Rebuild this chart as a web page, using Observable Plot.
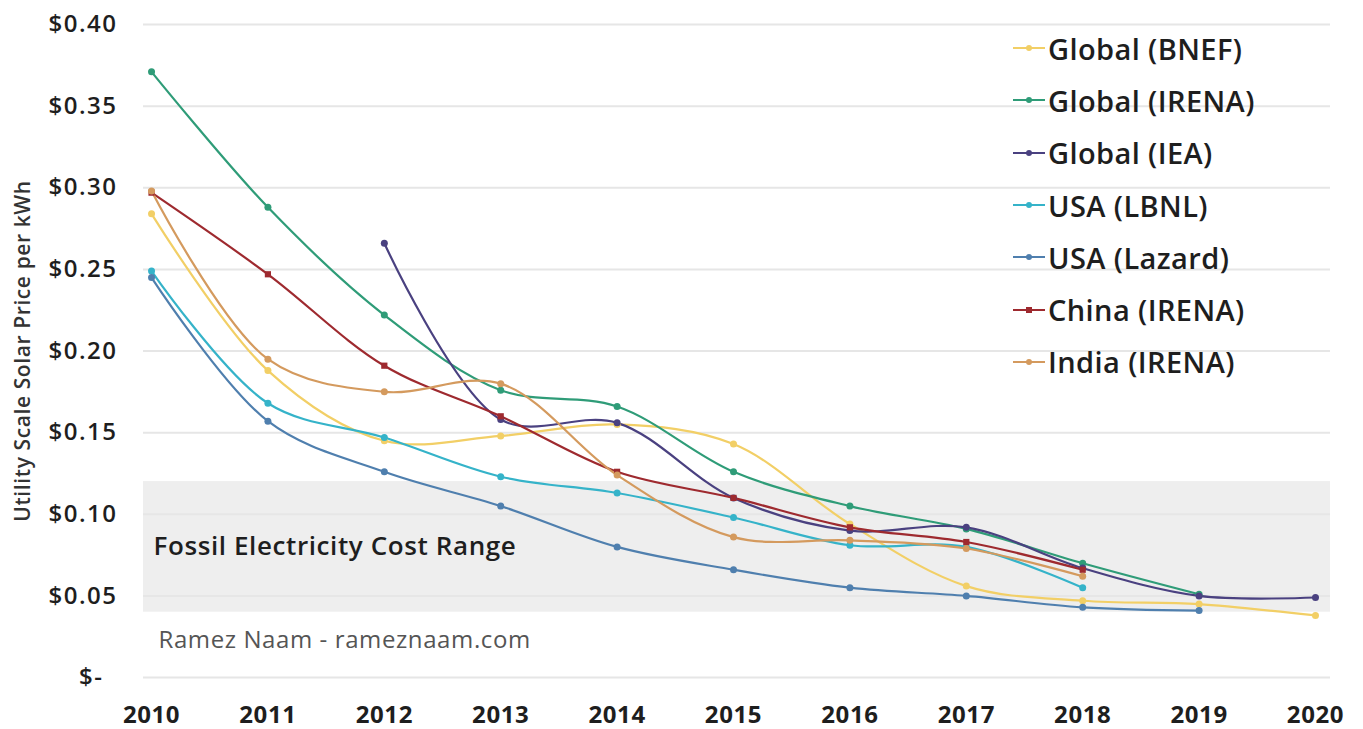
<!DOCTYPE html>
<html>
<head>
<meta charset="utf-8">
<script src="https://cdn.jsdelivr.net/npm/d3@7"></script>
<script src="https://cdn.jsdelivr.net/npm/@observablehq/plot@0.6"></script>
<style>
  html, body { margin: 0; padding: 0; background: #fff; }
  #wrap { position: relative; width: 1363px; height: 729px; font-family: "Open Sans", Lato, sans-serif; }
  #legend { position: absolute; left: 1013px; top: 22px; }
  .item { display: flex; align-items: center; height: 52.3px; font-size: 29px; font-weight: 600; letter-spacing: 0.4px; color: #1e1e1e; }
  .item svg { margin-right: 3px; }
  #wrap svg g[aria-label="y-axis tick label"] text { letter-spacing: 1.5px; }
  #wrap svg g[aria-label="x-axis tick label"] text { letter-spacing: 0.6px; }
  #wrap svg g[aria-label="text"] text { letter-spacing: 0.6px; }
</style>
</head>
<body>
<div id="wrap"><div id="legend"></div></div>
<script>
// Utility-scale solar price per kWh, by source
const years = [2010, 2011, 2012, 2013, 2014, 2015, 2016, 2017, 2018, 2019, 2020];
const seriesNames = ["Global (BNEF)", "Global (IRENA)", "Global (IEA)", "USA (LBNL)", "USA (Lazard)", "China (IRENA)", "India (IRENA)"];
const globalBnef  = [0.284, 0.188, 0.145, 0.148, 0.155, 0.143, 0.094, 0.056, 0.047, 0.045, 0.038];
const globalIrena = [0.371, 0.288, 0.222, 0.176, 0.166, 0.126, 0.105, 0.091, 0.070, 0.051, null];
const globalIea   = [null, null, 0.266, 0.158, 0.156, 0.110, 0.090, 0.092, 0.067, 0.050, 0.049];
const usaLbnl     = [0.249, 0.168, 0.147, 0.123, 0.113, 0.098, 0.081, 0.080, 0.055, null, null];
const usaLazard   = [0.245, 0.157, 0.126, 0.105, 0.080, 0.066, 0.055, 0.050, 0.043, 0.041, null];
const chinaIrena  = [0.297, 0.247, 0.191, 0.160, 0.126, 0.110, 0.092, 0.083, 0.066, null, null];
const indiaIrena  = [0.298, 0.195, 0.175, 0.180, 0.124, 0.086, 0.084, 0.079, 0.062, null, null];
const seriesValues = [globalBnef, globalIrena, globalIea, usaLbnl, usaLazard, chinaIrena, indiaIrena];
const seriesColors = ["#f2cf66", "#2f9c78", "#4a4180", "#35b3c9", "#4f7fae", "#9e2a2f", "#d49a5e"];
const seriesSymbols = ["circle", "circle", "circle", "circle", "circle", "square", "circle"];

const priceTicks = [0, 0.05, 0.10, 0.15, 0.20, 0.25, 0.30, 0.35, 0.40];
const fossilLow = 0.04;
const fossilHigh = 0.12;
const fossilLabel = "Fossil Electricity Cost Range";
const yLabel = "Utility Scale Solar Price per kWh";
const credit = "Ramez Naam - rameznaam.com";

const rows = [];
seriesNames.forEach((name, i) => {
  seriesValues[i].forEach((v, j) => {
    if (v != null) rows.push({series: name, year: years[j], price: v});
  });
});

const chart = Plot.plot({
  width: 1363,
  height: 729,
  marginLeft: 143,
  marginRight: 33,
  marginTop: 24,
  marginBottom: 52,
  style: {fontFamily: "'Open Sans', Lato, sans-serif", color: "#1e1e1e", background: "white"},
  x: {domain: [2009.931, 2020.129]},
  y: {domain: [0, 0.40]},
  color: {domain: seriesNames, range: seriesColors},
  symbol: {domain: seriesNames, range: seriesSymbols},
  marks: [
    Plot.rectY([{lo: fossilLow, hi: fossilHigh}], {y1: "lo", y2: "hi", fill: "#eeeeee"}),
    Plot.gridY(priceTicks, {stroke: "#e6e6e6", strokeOpacity: 1, strokeWidth: 2}),
    Plot.text([fossilLabel], {frameAnchor: "left", y: [(fossilLow + fossilHigh) / 2], textAnchor: "start", dx: 10, fontSize: 26, fontWeight: 600, fill: "#1e1e1e"}),
    Plot.text([credit], {frameAnchor: "bottom-left", textAnchor: "start", dx: 15, dy: -30, fontSize: 24, fill: "#555"}),
    Plot.text([yLabel], {frameAnchor: "left", textAnchor: "middle", rotate: -90, dx: -120, fontSize: 21, fontWeight: 600, fill: "#333"}),
    Plot.axisY(priceTicks.filter(d => d > 0), {tickFormat: d => "$" + d.toFixed(2), tickSize: 0, tickPadding: 26, fontSize: 24, fontWeight: 600, label: null}),
    Plot.axisY([0], {tickFormat: () => "$-", tickSize: 0, tickPadding: 40, fontSize: 24, fontWeight: 600, label: null}),
    Plot.axisX(years, {tickFormat: d => String(d), tickSize: 0, tickPadding: 28, fontSize: 24, fontWeight: 700, label: null}),
    Plot.line(rows, {x: "year", y: "price", z: "series", stroke: "series", strokeWidth: 2.2, curve: "catmull-rom"}),
    Plot.dot(rows, {x: "year", y: "price", fill: "series", symbol: "series", r: 3.5})
  ]
});
document.getElementById("wrap").prepend(chart);

// Legend: line-with-marker swatch followed by the series name
const legend = document.getElementById("legend");
seriesNames.forEach((name, i) => {
  const item = document.createElement("div");
  item.className = "item";
  const c = seriesColors[i];
  const mark = seriesSymbols[i] === "square"
    ? `<rect x="13" y="3" width="6" height="6" fill="${c}"/>`
    : `<circle cx="16" cy="6" r="3" fill="${c}"/>`;
  item.innerHTML = `<svg width="32" height="12" viewBox="0 0 32 12"><line x1="0" y1="6" x2="32" y2="6" stroke="${c}" stroke-width="2"/>${mark}</svg><span>${name}</span>`;
  legend.appendChild(item);
});
</script>
</body>
</html>
